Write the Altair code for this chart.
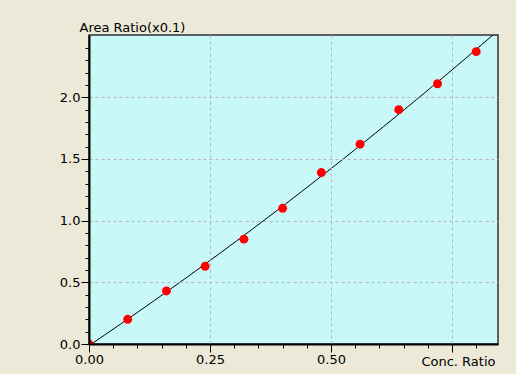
import altair as alt
import pandas as pd

# Calibration data
conc_ratio = [0.00, 0.08, 0.16, 0.24, 0.32, 0.40, 0.48, 0.56, 0.64, 0.72, 0.80]
area_ratio = [0.00, 0.20, 0.43, 0.63, 0.85, 1.10, 1.39, 1.62, 1.90, 2.11, 2.37]

x_ticks = [0.00, 0.05, 0.10, 0.15, 0.20, 0.25, 0.30, 0.35, 0.40, 0.45,
           0.50, 0.55, 0.60, 0.65, 0.70, 0.75, 0.80]
y_ticks = [0.0, 0.1, 0.2, 0.3, 0.4, 0.5, 0.6, 0.7, 0.8, 0.9, 1.0, 1.1, 1.2,
           1.3, 1.4, 1.5, 1.6, 1.7, 1.8, 1.9, 2.0, 2.1, 2.2, 2.3, 2.4]

x_domain = [0, 0.845]
y_domain = [0, 2.505]

df = pd.DataFrame({"x": conc_ratio, "y": area_ratio})

FONT = "DejaVu Sans"
FS = 13
X_MAJOR = "abs(datum.value*4 - round(datum.value*4)) < 1e-6"
Y_MAJOR = "abs(datum.value*2 - round(datum.value*2)) < 1e-6"

x_axis = alt.Axis(
    values=x_ticks,
    title="Conc. Ratio",
    titleAngle=0,
    titleAlign="right",
    titleBaseline="alphabetic",
    titleX=406,
    titleY=21,
    titleFont=FONT,
    titleFontSize=FS,
    titleFontWeight="normal",
    titleColor="#000000",
    labelExpr="(" + X_MAJOR + " && datum.value < 0.7) ? format(datum.value, '.2f') : ''",
    labelFont=FONT,
    labelFontSize=FS,
    labelColor="#000000",
    labelPadding=1,
    labelFlush=False,
    tickSize={"condition": {"test": X_MAJOR, "value": 8}, "value": 4},
    tickColor="#000000",
    tickWidth=1,
    domainColor="#000000",
    domainWidth=2,
    grid=True,
    gridColor="#BDB4B4",
    gridDash=[3, 3],
    gridWidth=1,
    gridOpacity={"condition": {"test": X_MAJOR + " && datum.value > 0", "value": 1}, "value": 0},
    zindex=1,
)

y_axis = alt.Axis(
    values=y_ticks,
    title="Area Ratio(x0.1)",
    titleAngle=0,
    titleAlign="left",
    titleBaseline="alphabetic",
    titleX=-10,
    titleY=-4,
    titleFont=FONT,
    titleFontSize=FS,
    titleFontWeight="normal",
    titleColor="#000000",
    labelExpr=Y_MAJOR + " ? format(datum.value, '.1f') : ''",
    labelFont=FONT,
    labelFontSize=FS,
    labelColor="#000000",
    labelPadding=1,
    labelFlush=False,
    tickSize={"condition": {"test": Y_MAJOR, "value": 8}, "value": 4},
    tickColor="#000000",
    tickWidth=1,
    domainColor="#000000",
    domainWidth=2,
    grid=True,
    gridColor="#BDB4B4",
    gridDash=[3, 3],
    gridWidth=1,
    gridOpacity={"condition": {"test": Y_MAJOR + " && datum.value > 0", "value": 1}, "value": 0},
    zindex=1,
)

xenc = alt.X("x:Q", scale=alt.Scale(domain=x_domain, nice=False, zero=False), axis=x_axis)
yenc = alt.Y("y:Q", scale=alt.Scale(domain=y_domain, nice=False, zero=False), axis=y_axis)

fit = (
    alt.Chart(df)
    .transform_regression("x", "y", method="quad", extent=x_domain)
    .mark_line(color="#000000", strokeWidth=1, clip=True)
    .encode(x=xenc, y=yenc)
)

points = (
    alt.Chart(df)
    .mark_circle(color="#FF0000", opacity=1, size=80, clip=True)
    .encode(x=xenc, y=yenc)
)

chart = (
    alt.layer(fit, points)
    .properties(
        width=409,
        height=309,
        autosize=alt.AutoSizeParams(type="none"),
        padding={"left": 89, "top": 35, "right": 18, "bottom": 30},
        background="#ECE9D8",
    )
    .configure_view(fill="#C8F8F8", stroke="#303030", strokeWidth=1.5)
)

chart.save("out.html", embed_options={"renderer": "svg", "actions": False})
